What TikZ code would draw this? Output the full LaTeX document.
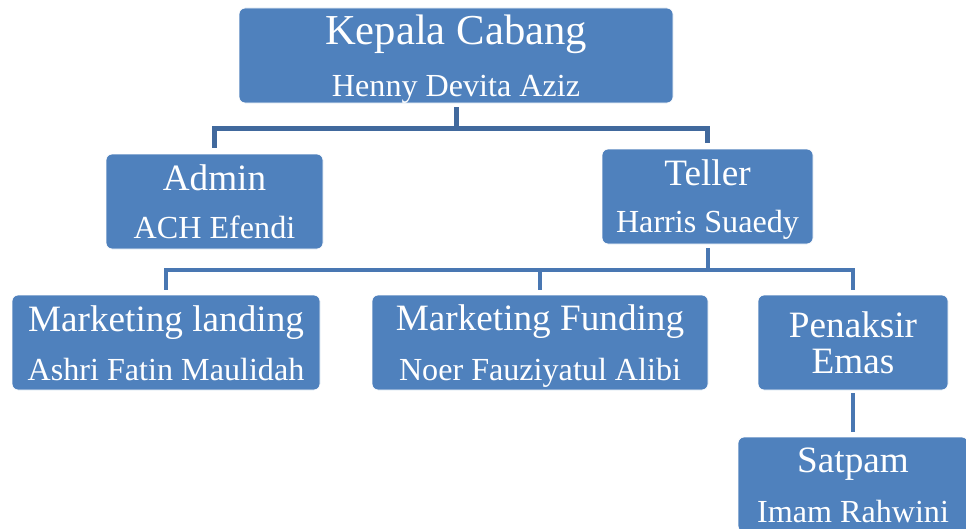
\documentclass[tikz,border=0pt]{standalone}
\usepackage{fontspec}
\setmainfont{Liberation Serif}
\definecolor{boxblue}{HTML}{4F81BD}
\definecolor{linkdark}{HTML}{41699D}
\definecolor{linkblue}{HTML}{4977B2}
\newlength\px
\setlength\px{0.75pt}

\begin{document}
\begin{tikzpicture}[x=0.75pt,y=-0.75pt,
    unit/.style={fill=boxblue,draw=white,line width=0.6pt,rounded corners=6\px,inner sep=0pt,minimum height=95\px},
    role/.style={anchor=base,text=white,inner sep=0pt,font=\fontsize{27.9}{32}\selectfont},
    person/.style={anchor=base,text=white,inner sep=0pt,font=\fontsize{24.1}{28}\selectfont},
    toplink/.style={draw=linkdark,line width=5\px},
    link/.style={draw=linkblue,line width=4\px}]
        \useasboundingbox (0,0) rectangle (966,528);
        \clip (0,0) rectangle (966,528);
        % boxes
        \node[unit,minimum width=434\px] (kepala) at (456,55.5) {};
        \node[unit,minimum width=217\px] (admin) at (214.5,201.5) {};
        \node[unit,minimum width=211\px] (teller) at (707.5,196.5) {};
        \node[unit,minimum width=308\px] (lending) at (166,342.5) {};
        \node[unit,minimum width=336\px] (funding) at (540,342.5) {};
        \node[unit,minimum width=190\px] (penaksir) at (853,342.5) {};
        \node[unit,minimum width=230\px] (satpam) at (853,484.5) {};
        % texts
        \node[role,font=\fontsize{32}{36}\selectfont] (kepala-role) at (456,45) {Kepala Cabang};
        \node[person] (kepala-name) at (456,96) {Henny Devita Aziz};
        \node[role] (admin-role) at (214.5,190) {Admin};
        \node[person] (admin-name) at (214.5,238) {ACH Efendi};
        \node[role] (teller-role) at (707.5,185) {Teller};
        \node[person] (teller-name) at (707.5,232) {Harris Suaedy};
        \node[role] (lending-role) at (166,331) {Marketing landing};
        \node[person] (lending-name) at (166,380) {Ashri Fatin Maulidah};
        \node[role] (funding-role) at (540,330) {Marketing Funding};
        \node[person] (funding-name) at (540,380) {Noer Fauziyatul Alibi};
        \node[role] (penaksir-role1) at (853,337) {Penaksir};
        \node[role] (penaksir-role2) at (853,373) {Emas};
        \node[role] (satpam-role) at (853,472) {Satpam};
        \node[person] (satpam-name) at (853,522) {Imam Rahwini};
        % connectors
        \coordinate (bar1) at (456,128);
        \coordinate (bar2) at (707.5,270);
        \draw[toplink,shorten <=4\px] (kepala.south) -- (bar1);
        \draw[toplink,shorten <=6\px,shorten >=6\px] (admin.north) |- (bar1) -| (teller.north);
        \draw[link,shorten <=4\px] (teller.south) -- (bar2);
        \draw[link,shorten <=5\px,shorten >=5\px] (lending.north) |- (bar2) -| (penaksir.north);
        \draw[link,shorten >=5\px] (funding.north |- bar2) -- (funding.north);
        \draw[link,shorten <=3\px,shorten >=5\px] (penaksir.south) -- (satpam.north);
\end{tikzpicture}
\end{document}
